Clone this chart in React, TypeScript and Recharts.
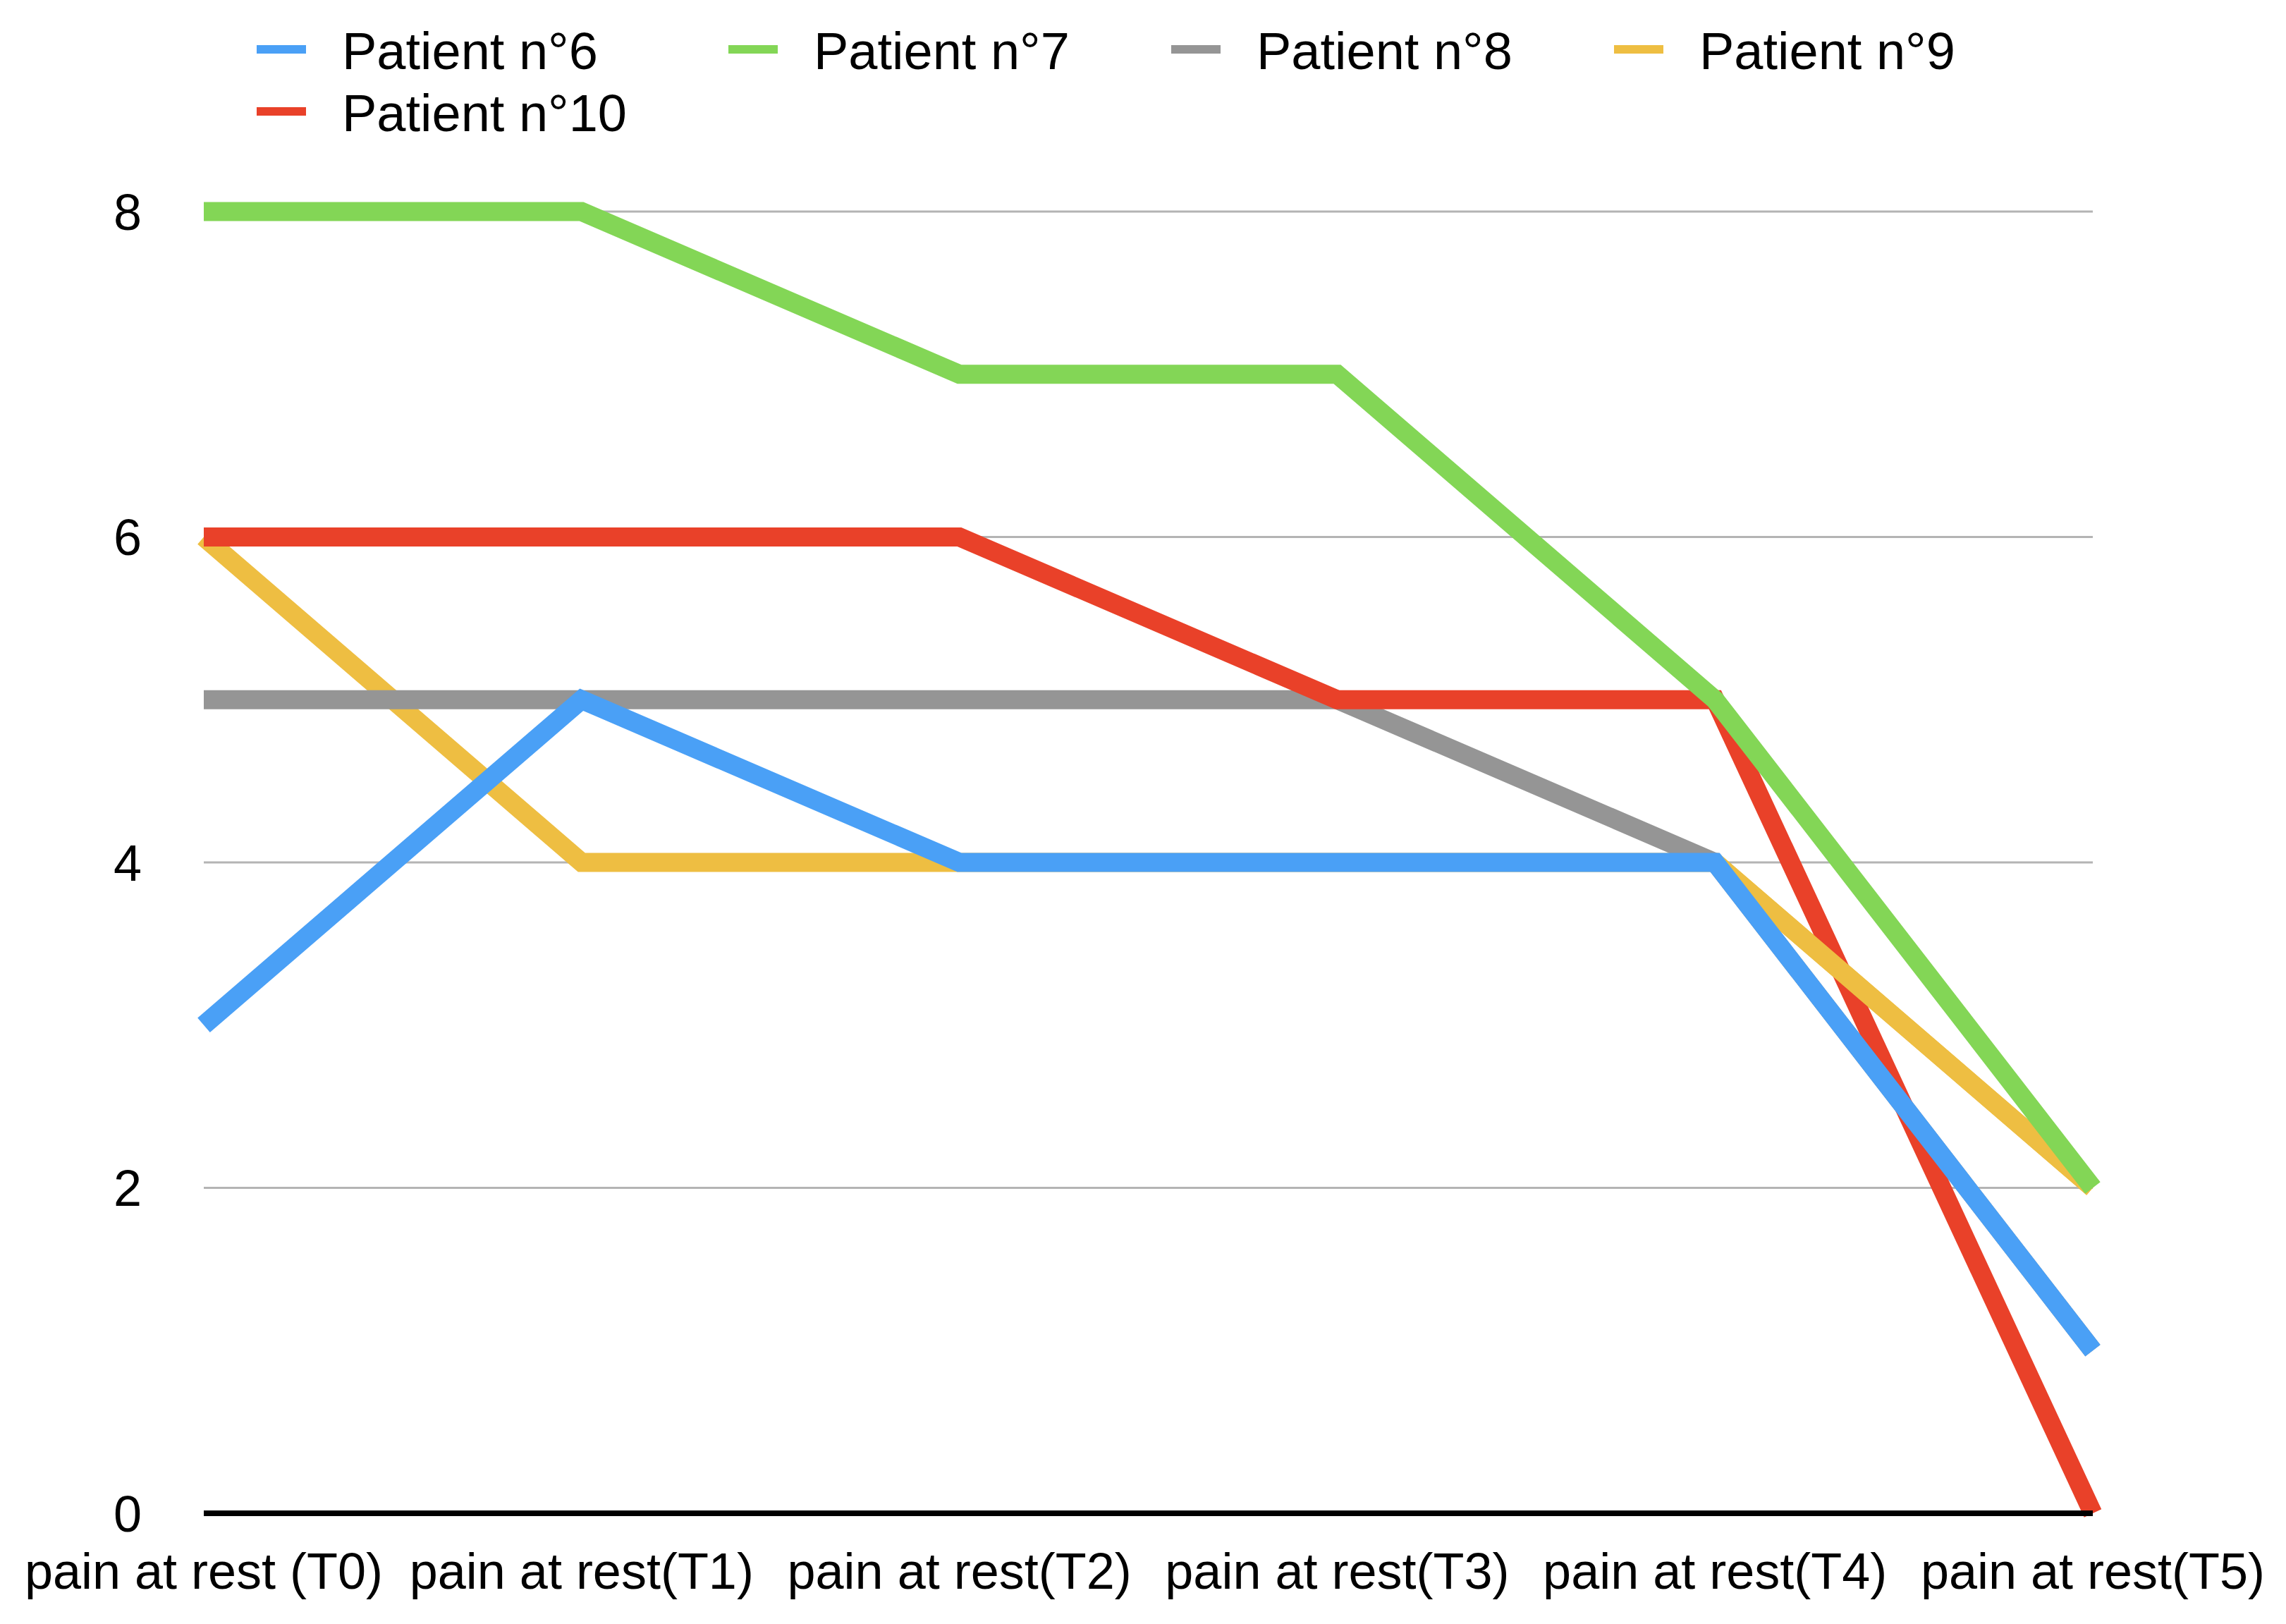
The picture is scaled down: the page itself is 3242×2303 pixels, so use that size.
import React from "react";
import { LineChart, Line, XAxis, YAxis, CartesianGrid, Legend } from "recharts";

const categories = [
  "pain at rest (T0)",
  "pain at rest(T1)",
  "pain at rest(T2)",
  "pain at rest(T3)",
  "pain at rest(T4)",
  "pain at rest(T5)",
];
const patient6 = [3, 5, 4, 4, 4, 1];
const patient7 = [8, 8, 7, 7, 5, 2];
const patient8 = [5, 5, 5, 5, 4, 1];
const patient9 = [6, 4, 4, 4, 4, 2];
const patient10 = [6, 6, 6, 5, 5, 0];
const yTicks = [0, 2, 4, 6, 8];

const seriesMeta = [
  { key: "p6", name: "Patient n°6", color: "#4AA0F6", values: patient6 },
  { key: "p7", name: "Patient n°7", color: "#83D656", values: patient7 },
  { key: "p8", name: "Patient n°8", color: "#959595", values: patient8 },
  { key: "p9", name: "Patient n°9", color: "#EEBE42", values: patient9 },
  { key: "p10", name: "Patient n°10", color: "#E94129", values: patient10 },
];

const data = categories.map((c, i) => {
  const row: any = { cat: c };
  seriesMeta.forEach((s) => (row[s.key] = s.values[i]));
  // last segment of Patient n°9 is drawn again above Patient n°10 (as in the original layering)
  row.p9last = i >= categories.length - 2 ? patient9[i] : null;
  return row;
});

// drawing order (bottom to top)
const drawOrder = [
  { key: "p9", color: "#EEBE42" },
  { key: "p8", color: "#959595" },
  { key: "p10", color: "#E94129" },
  { key: "p9last", color: "#EEBE42" },
  { key: "p6", color: "#4AA0F6" },
  { key: "p7", color: "#83D656" },
];

const FONT = '"Liberation Sans", Arial, Helvetica, sans-serif';
const W = 3226;
const H = 2287;

const LegendContent = () => (
  <div
    style={{
      width: W,
      height: 200,
      boxSizing: "border-box",
      paddingTop: 18,
      paddingLeft: 356,
      display: "grid",
      gridTemplateColumns: "669px 628px 628px 628px",
      gridAutoRows: "88px",
      fontFamily: FONT,
      fontSize: 74,
      color: "#000",
    }}
  >
    {seriesMeta.map((s) => (
      <div key={s.key} style={{ display: "flex", alignItems: "center", height: 88 }}>
        <div style={{ width: 70, height: 12, background: s.color, marginRight: 51, flexShrink: 0 }} />
        <span style={{ whiteSpace: "nowrap", lineHeight: "88px", position: "relative", top: 3 }}>{s.name}</span>
      </div>
    ))}
  </div>
);

export default function App() {
  return (
    <div style={{ width: W, height: H, background: "#fff" }}>
      <LineChart width={W} height={H} data={data} margin={{ top: 92, right: 266, bottom: 0, left: 0 }}>
        <CartesianGrid horizontal vertical={false} stroke="#B4B4B4" strokeWidth={3} />
        <XAxis
          dataKey="cat"
          interval={0}
          height={149}
          tickSize={0}
          tickMargin={56}
          axisLine={{ stroke: "#000", strokeWidth: 8 }}
          tickLine={false}
          tick={{ fill: "#000", fontSize: 72, fontFamily: FONT }}
        />
        <YAxis
          width={281}
          domain={[0, 8]}
          ticks={yTicks}
          interval={0}
          tickSize={0}
          tickMargin={88}
          axisLine={false}
          tickLine={false}
          tick={{ fill: "#000", fontSize: 72, fontFamily: FONT }}
        />
        <Legend
          verticalAlign="top"
          align="left"
          wrapperStyle={{ top: 0, left: 0, width: W }}
          content={() => <LegendContent />}
        />
        {drawOrder.map((d) => (
          <Line
            key={d.key}
            type="linear"
            dataKey={d.key}
            stroke={d.color}
            strokeWidth={27}
            strokeLinejoin="miter"
            strokeLinecap="butt"
            dot={false}
            activeDot={false}
            connectNulls={false}
            legendType="none"
            isAnimationActive={false}
          />
        ))}
      </LineChart>
    </div>
  );
}
